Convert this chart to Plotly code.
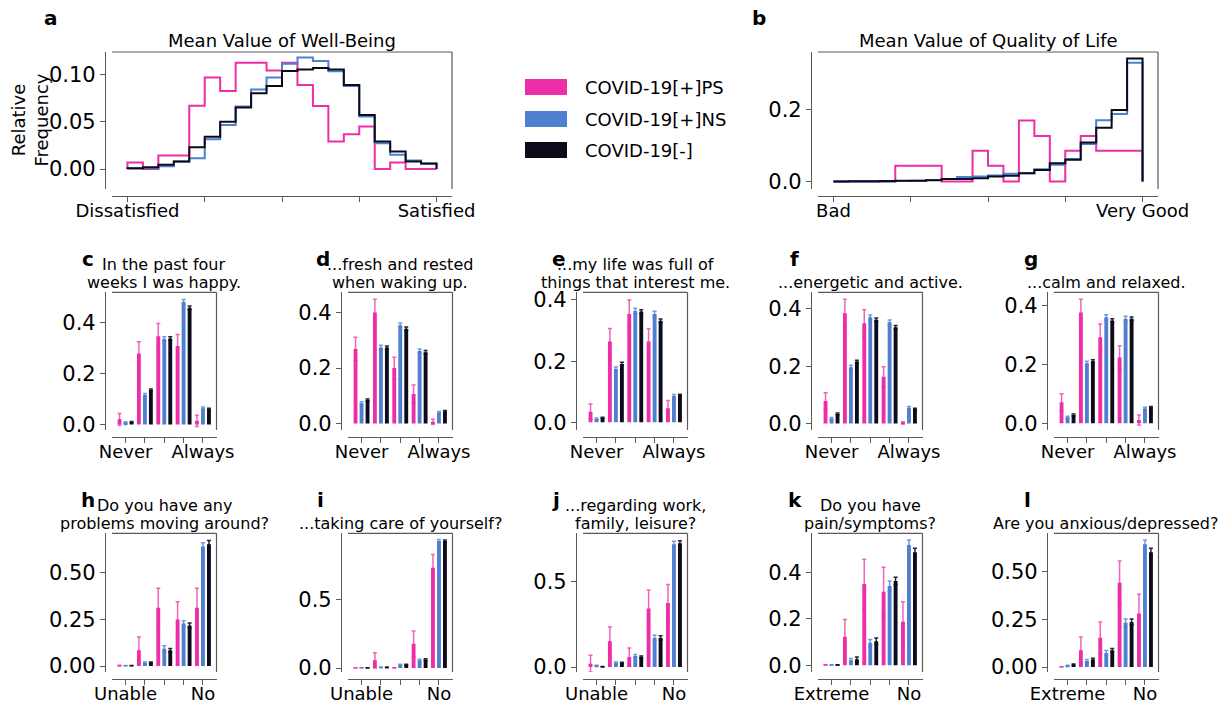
import plotly.graph_objects as go

W, H = 1227, 707
PINK = "#ee2ea6"
BLUE = "#4f7fd0"
DARK = "#0b0b1c"
SPINE = "#5a5a5a"
FONT = "DejaVu Sans"

# ---------------- data ----------------
series_names = ["COVID-19[+]PS", "COVID-19[+]NS", "COVID-19[-]"]
bin_edges = list(range(21))

# a: Mean value of well-being (relative frequency per bin)
wb_ps = [0.007, 0.0, 0.0143, 0.0143, 0.0668, 0.0965, 0.0822, 0.112, 0.112, 0.104,
         0.112, 0.0885, 0.0664, 0.029, 0.0367, 0.0448, 0.0, 0.007, 0.0, 0.0]
wb_ns = [0.0005, 0.001, 0.003, 0.008, 0.0115, 0.0315, 0.0465, 0.066, 0.084, 0.0965,
         0.111, 0.1175, 0.114, 0.103, 0.0875, 0.0553, 0.0273, 0.015, 0.009, 0.0056]
wb_neg = [0.001, 0.002, 0.0045, 0.008, 0.023, 0.034, 0.05, 0.065, 0.08, 0.0875,
          0.1035, 0.105, 0.1066, 0.105, 0.0885, 0.057, 0.029, 0.0185, 0.008, 0.006]

# b: Mean value of quality of life
ql_ps = [0, 0, 0, 0, 0.0433, 0.0433, 0.0433, 0, 0, 0.0848,
         0.0433, 0, 0.169, 0.126, 0, 0.0848, 0.126, 0.0848, 0.0848, 0.0848]
ql_ns = [0, 0, 0, 0, 0.001, 0.002, 0.004, 0.0065, 0.012, 0.0138,
         0.0166, 0.021, 0.023, 0.034, 0.046, 0.062, 0.104, 0.17, 0.187, 0.329]
ql_neg = [0, 0.0005, 0.0005, 0.001, 0.002, 0.002, 0.003, 0.0065, 0.0065, 0.009,
          0.0138, 0.0157, 0.023, 0.032, 0.0507, 0.06, 0.108, 0.149, 0.198, 0.341]

categories = [0, 1, 2, 3, 4]
freq_ticks = ["Never", "", "", "", "Always"]
unable_ticks = ["Unable", "", "", "", "No"]
extreme_ticks = ["Extreme", "", "", "", "No"]

c_ps = [0.02, 0.278, 0.346, 0.307, 0.014];    c_ps_err = [0.023, 0.046, 0.05, 0.046, 0.022]
c_ns = [0.007, 0.115, 0.335, 0.48, 0.063];    c_ns_err = [0.003, 0.006, 0.009, 0.01, 0.005]
c_neg = [0.009, 0.135, 0.337, 0.457, 0.059];  c_neg_err = [0.002, 0.004, 0.007, 0.007, 0.004]

d_ps = [0.269, 0.4, 0.2, 0.107, 0.007];       d_ps_err = [0.042, 0.048, 0.039, 0.032, 0.009]
d_ns = [0.073, 0.274, 0.354, 0.262, 0.04];    d_ns_err = [0.006, 0.008, 0.008, 0.007, 0.004]
d_neg = [0.085, 0.274, 0.342, 0.257, 0.044];  d_neg_err = [0.004, 0.006, 0.006, 0.006, 0.003]

e_ps = [0.035, 0.264, 0.354, 0.264, 0.046];   e_ps_err = [0.025, 0.043, 0.046, 0.042, 0.025]
e_ns = [0.011, 0.174, 0.364, 0.354, 0.086];   e_ns_err = [0.003, 0.007, 0.009, 0.009, 0.005]
e_neg = [0.015, 0.191, 0.362, 0.332, 0.089];  e_neg_err = [0.002, 0.005, 0.006, 0.006, 0.003]

f_ps = [0.078, 0.385, 0.35, 0.163, 0.002];    f_ps_err = [0.029, 0.049, 0.047, 0.035, 0.004]
f_ns = [0.017, 0.196, 0.371, 0.353, 0.055];   f_ns_err = [0.004, 0.007, 0.008, 0.008, 0.004]
f_neg = [0.033, 0.216, 0.362, 0.336, 0.05];   f_neg_err = [0.003, 0.005, 0.006, 0.006, 0.003]

g_ps = [0.071, 0.376, 0.292, 0.223, 0.011];   g_ps_err = [0.029, 0.045, 0.045, 0.04, 0.017]
g_ns = [0.02, 0.204, 0.36, 0.355, 0.05];      g_ns_err = [0.004, 0.007, 0.009, 0.009, 0.004]
g_neg = [0.028, 0.211, 0.349, 0.355, 0.054];  g_neg_err = [0.003, 0.005, 0.006, 0.006, 0.003]

h_ps = [0.002, 0.084, 0.312, 0.249, 0.312];   h_ps_err = [0.002, 0.072, 0.104, 0.095, 0.104]
h_ns = [0.002, 0.018, 0.093, 0.228, 0.64];    h_ns_err = [0.001, 0.004, 0.015, 0.015, 0.021]
h_neg = [0.002, 0.018, 0.084, 0.217, 0.652];  h_neg_err = [0.001, 0.003, 0.01, 0.013, 0.02]

i_ps = [0.001, 0.056, 0.001, 0.178, 0.732];   i_ps_err = [0.001, 0.056, 0.001, 0.093, 0.097]
i_ns = [0.001, 0.005, 0.024, 0.056, 0.927];   i_ns_err = [0.001, 0.002, 0.004, 0.008, 0.01]
i_neg = [0.001, 0.005, 0.024, 0.061, 0.927];  i_neg_err = [0.001, 0.002, 0.003, 0.006, 0.007]

j_ps = [0.02, 0.151, 0.059, 0.343, 0.376];    j_ps_err = [0.049, 0.084, 0.053, 0.108, 0.108]
j_ns = [0.008, 0.025, 0.065, 0.171, 0.72];    j_ns_err = [0.002, 0.005, 0.008, 0.016, 0.017]
j_neg = [0.002, 0.024, 0.059, 0.171, 0.725];  j_neg_err = [0.001, 0.004, 0.006, 0.012, 0.016]

k_ps = [0.001, 0.123, 0.351, 0.318, 0.188];   k_ps_err = [0.001, 0.075, 0.107, 0.105, 0.086]
k_ns = [0.001, 0.022, 0.097, 0.342, 0.52];    k_ns_err = [0.001, 0.007, 0.014, 0.022, 0.021]
k_neg = [0.001, 0.026, 0.104, 0.364, 0.488];  k_neg_err = [0.001, 0.01, 0.014, 0.016, 0.017]

l_ps = [0.001, 0.088, 0.154, 0.442, 0.281];   l_ps_err = [0.001, 0.07, 0.083, 0.114, 0.101]
l_ns = [0.007, 0.032, 0.074, 0.232, 0.644];   l_ns_err = [0.002, 0.008, 0.013, 0.02, 0.023]
l_neg = [0.014, 0.04, 0.088, 0.237, 0.602];   l_neg_err = [0.002, 0.006, 0.01, 0.015, 0.021]

# ---------------- figure ----------------
fig = go.Figure()
layout = dict(width=W, height=H, margin=dict(l=0, r=0, t=0, b=0, pad=0, autoexpand=False),
              paper_bgcolor="white", plot_bgcolor="white", showlegend=False,
              font=dict(family=FONT, color="black"),
              barmode="group", bargap=0.07, bargroupgap=0.355)
shapes, annotations = [], []
OFF = 7


def setup_axes(idx, xl, xr, yt, yb, xrange, tickvals, ticktext, yrange, ytickvals, yfmt):
    xa = "xaxis" if idx == 1 else f"xaxis{idx}"
    ya = "yaxis" if idx == 1 else f"yaxis{idx}"
    xn = "x" if idx == 1 else f"x{idx}"
    yn = "y" if idx == 1 else f"y{idx}"
    layout[xa] = dict(domain=[xl / W, xr / W], range=xrange, anchor="free",
                      position=1 - (yb + OFF) / H, showline=True, linecolor=SPINE,
                      linewidth=1.2, ticks="outside", ticklen=5, tickwidth=1.2,
                      tickcolor=SPINE, tickvals=tickvals, ticktext=ticktext,
                      tickfont=dict(size=18, family=FONT), ticklabelstandoff=-7,
                      showgrid=False, zeroline=False, fixedrange=True, automargin=False)
    layout[ya] = dict(domain=[1 - yb / H, 1 - yt / H], range=yrange, anchor="free",
                      position=(xl - OFF) / W, showline=True, linecolor=SPINE,
                      linewidth=1.2, ticks="outside", ticklen=5, tickwidth=1.2,
                      tickcolor=SPINE, tickvals=ytickvals, tickformat=yfmt,
                      tickfont=dict(size=21, family=FONT), showgrid=False,
                      zeroline=False, fixedrange=True, automargin=False)
    for (x0, x1, y0, y1) in [(0, 1, 1, 1), (1, 1, 0, 1)]:
        shapes.append(dict(type="line", xref=f"{xn} domain", yref=f"{yn} domain",
                           x0=x0, x1=x1, y0=y0, y1=y1,
                           line=dict(color=SPINE, width=1.2)))
    return xn, yn


def step_trace(vals, color, xn, yn):
    xs = [bin_edges[0]] + bin_edges[:-1] + [bin_edges[-1], bin_edges[-1]]
    ys = [0] + vals + [vals[-1], 0]
    return go.Scatter(x=xs, y=ys, mode="lines", line=dict(color=color, width=2, shape="hv"),
                      xaxis=xn, yaxis=yn, hoverinfo="skip")


# Row 1 histograms
hist_panels = [
    (1, 112, 452, "a", 51, "Mean Value of Well-Being", ["Dissatisfied", "", "", "", "Satisfied"],
     [-0.021, 0.1234], [0, 0.05, 0.10], ".2f", (wb_ps, wb_ns, wb_neg)),
    (2, 818, 1158, "b", 759, "Mean Value of Quality of Life", ["Bad", "", "", "", "Very Good"],
     [-0.021, 0.359], [0, 0.2], ".1f", (ql_ps, ql_ns, ql_neg)),
]
for idx, xl, xr, letter, lx, title, tt, yr, yt, yf, vals in hist_panels:
    xn, yn = setup_axes(idx, xl, xr, 52, 189, [-1, 21], [0, 5, 10, 15, 20], tt, yr, yt, yf)
    for v, col in zip(vals, [PINK, BLUE, DARK]):
        fig.add_trace(step_trace(v, col, xn, yn))
    annotations.append(dict(text=title, xref=f"{xn} domain", yref=f"{yn} domain", x=0.5, y=1,
                            xanchor="center", yanchor="middle", yshift=11, showarrow=False,
                            font=dict(size=18)))
    annotations.append(dict(text=f"<b>{letter}</b>", xref="paper", yref="paper", x=lx / W,
                            y=1 - 18 / H, xanchor="center", yanchor="middle", showarrow=False,
                            font=dict(size=20)))

annotations.append(dict(text="Relative<br>Frequency", xref="paper", yref="y domain", x=29 / W,
                        y=0.5, xanchor="center", yanchor="middle", textangle=-90,
                        showarrow=False, font=dict(size=18)))

# Rows 2-3 bar panels
col_x = [112, 348, 583, 818, 1054]
letter_x = [88, 323, 559, 794, 1031, 88, 320, 556, 795, 1027]
bar_panels = [
    ("c", ["In the past four", "weeks I was happy."], freq_ticks, [-0.022, 0.518], [0, 0.2, 0.4], ".1f", (c_ps, c_ps_err, c_ns, c_ns_err, c_neg, c_neg_err)),
    ("d", ["...fresh and rested", "when waking up."], freq_ticks, [-0.023, 0.473], [0, 0.2, 0.4], ".1f", (d_ps, d_ps_err, d_ns, d_ns_err, d_neg, d_neg_err)),
    ("e", ["...my life was full of", "things that interest me."], freq_ticks, [-0.025, 0.425], [0, 0.2, 0.4], ".1f", (e_ps, e_ps_err, e_ns, e_ns_err, e_neg, e_neg_err)),
    ("f", ["...energetic and active."], freq_ticks, [-0.023, 0.458], [0, 0.2, 0.4], ".1f", (f_ps, f_ps_err, f_ns, f_ns_err, f_neg, f_neg_err)),
    ("g", ["...calm and relaxed."], freq_ticks, [-0.023, 0.445], [0, 0.2, 0.4], ".1f", (g_ps, g_ps_err, g_ns, g_ns_err, g_neg, g_neg_err)),
    ("h", ["Do you have any", "problems moving around?"], unable_ticks, [-0.032, 0.711], [0, 0.25, 0.5], ".2f", (h_ps, h_ps_err, h_ns, h_ns_err, h_neg, h_neg_err)),
    ("i", ["...taking care of yourself?"], unable_ticks, [-0.029, 0.983], [0, 0.5], ".1f", (i_ps, i_ps_err, i_ns, i_ns_err, i_neg, i_neg_err)),
    ("j", ["...regarding work,", "family, leisure?"], unable_ticks, [-0.029, 0.784], [0, 0.5], ".1f", (j_ps, j_ps_err, j_ns, j_ns_err, j_neg, j_neg_err)),
    ("k", ["Do you have", "pain/symptoms?"], extreme_ticks, [-0.029, 0.57], [0, 0.2, 0.4], ".1f", (k_ps, k_ps_err, k_ns, k_ns_err, k_neg, k_neg_err)),
    ("l", ["Are you anxious/depressed?"], extreme_ticks, [-0.026, 0.702], [0, 0.25, 0.5], ".2f", (l_ps, l_ps_err, l_ns, l_ns_err, l_neg, l_neg_err)),
]
err_cols = ["rgba(238,46,166,0.75)", "rgba(79,127,208,0.8)", "rgba(11,11,28,0.9)"]
for n, (letter, title, tt, yr, yt, yf, data) in enumerate(bar_panels):
    idx = n + 3
    row = n // 5
    xl = col_x[n % 5]
    xr = xl + 104.5
    yt_px, yb_px = (292.3, 430) if row == 0 else (533.3, 672)
    xn, yn = setup_axes(idx, xl, xr, yt_px, yb_px, [-0.7, 4.7], categories, tt, yr, yt, yf)
    for s in range(3):
        col = [PINK, BLUE, DARK][s]
        fig.add_trace(go.Bar(x=categories, y=data[2 * s],
                             error_y=dict(type="data", array=data[2 * s + 1], color=err_cols[s],
                                          thickness=1.5, width=2),
                             marker=dict(color=col, line=dict(width=0)), name=series_names[s],
                             offsetgroup=str(s), xaxis=xn, yaxis=yn, hoverinfo="skip"))
    lines = title[::-1]
    for k, line in enumerate(lines):
        annotations.append(dict(text=line, xref=f"{xn} domain", yref=f"{yn} domain", x=0.5, y=1,
                                xanchor="center", yanchor="middle", yshift=10 + 18 * k,
                                showarrow=False, font=dict(size=16)))
    ly = 258.5 if row == 0 else 499.5
    annotations.append(dict(text=f"<b>{letter}</b>", xref="paper", yref="paper",
                            x=letter_x[n] / W, y=1 - ly / H, xanchor="center", yanchor="middle",
                            showarrow=False, font=dict(size=20)))

# Legend
for s, yc in enumerate([87, 119, 150]):
    shapes.append(dict(type="rect", xref="paper", yref="paper", x0=525 / W, x1=567 / W,
                       y0=1 - (yc + 8) / H, y1=1 - (yc - 8) / H,
                       fillcolor=[PINK, BLUE, DARK][s], line=dict(width=0)))
    annotations.append(dict(text=series_names[s], xref="paper", yref="paper", x=583 / W,
                            y=1 - yc / H, xanchor="left", yanchor="middle", showarrow=False,
                            font=dict(size=18)))

layout["shapes"] = shapes
layout["annotations"] = annotations
fig.update_layout(**layout)
fig.write_html("out.html", config={"displayModeBar": False},
               post_script="document.body.style.margin='0px';document.body.style.overflow='hidden';")
